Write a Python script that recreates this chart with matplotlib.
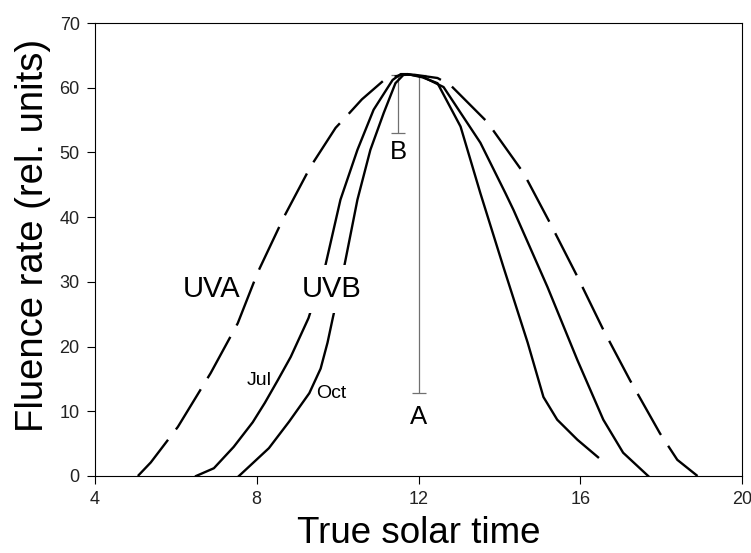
import matplotlib
matplotlib.use('Agg')
import matplotlib.pyplot as plt

plt.rcParams['font.family'] = ['Liberation Sans', 'DejaVu Sans']

# UVA (dashed)
uva_x = [5.06, 5.38, 6.05, 6.86, 7.53, 8.02, 8.67, 9.33, 9.95, 10.25, 10.6, 11.19, 11.6, 11.9,
         12.47, 12.79, 13.7, 14.6, 15.26, 15.93, 16.57, 17.23, 17.97, 18.4, 18.9]
uva_y = [0, 2.1, 7.6, 15.9, 23.6, 31.4, 40, 47.8, 53.8, 55.8, 58.2, 61.4, 62.0, 62.0,
         61.5, 60.4, 54.7, 46.8, 39, 30.8, 22.6, 14.8, 6.6, 2.5, 0]

# UVB July
jul_x = [6.5, 6.94, 7.43, 7.9, 8.2, 8.52, 8.84, 9.28, 9.70, 10.07, 10.49, 10.89, 11.36, 11.56, 11.73,
         12.1, 12.62, 13.53, 14.15, 14.35, 15.19, 15.93, 16.57, 17.06, 17.68]
jul_y = [0, 1.2, 4.5, 8.3, 11.3, 14.8, 18.4, 24.4, 32.6, 42.7, 50.4, 56.6, 61.2, 62.1, 62.1,
         61.7, 60.1, 51.5, 43.7, 41.1, 29.2, 17.9, 8.7, 3.6, 0]

# UVB October
oct_x = [7.56, 8.3, 8.8, 9.3, 9.58, 9.75, 9.88, 10.17, 10.49, 10.81, 11.14, 11.43, 11.63, 11.73,
         12.1, 12.47, 13.04, 13.53, 14.1, 14.7, 15.09, 15.43, 15.93, 16.44]
oct_y = [0, 4.3, 8.4, 12.8, 16.6, 20.6, 24.4, 32.6, 42.7, 50.4, 56.1, 60.7, 62.0, 62.1,
         61.6, 60.7, 54.0, 43.7, 32.3, 20.6, 12.2, 8.7, 5.6, 2.9]

# range bars A and B
bar_x = [12.0, 11.5]
bar_top = [62.0, 62.0]
bar_bottom = [12.8, 53.0]
bar_names = ['A', 'B']
bar_label_y = [9.1, 50.0]

fig = plt.figure(figsize=(7.51, 5.53), dpi=100)
ax = fig.add_axes([95/751, 1-476/553, (742-95)/751, (476-23)/553])

for xs, ys, st in [(uva_x, uva_y, 'dash'), (jul_x, jul_y, 'solid'), (oct_x, oct_y, 'solid')]:
    line, = ax.plot(xs, ys, color='black', lw=1.7, zorder=3,
                    solid_joinstyle='round', dash_joinstyle='round')
    if st == 'dash':
        line.set_dashes((20, 5.5))

lower = [t - b for t, b in zip(bar_top, bar_bottom)]
upper = [0 for t in bar_top]
ax.errorbar(bar_x, bar_top, yerr=[lower, upper], fmt='none', ecolor='#707070',
            elinewidth=0.9, capsize=4.7, capthick=0.9, zorder=2)
for bx, name, ly in zip(bar_x, bar_names, bar_label_y):
    ax.text(bx, ly, name, fontsize=18.5, ha='center', va='center', zorder=6)

ax.text(6.89, 28.9, 'UVA', fontsize=21, ha='center', va='center', zorder=6)
ax.text(9.85, 28.9, 'UVB', fontsize=21, ha='center', va='center', zorder=6,
        bbox=dict(facecolor='white', edgecolor='none', pad=7))
ax.text(8.05, 14.8, 'Jul', fontsize=14, ha='center', va='center', zorder=6)
ax.text(9.83, 12.8, 'Oct', fontsize=14, ha='center', va='center', zorder=6)

ax.set_xlim(4, 20)
ax.set_ylim(0, 70)
ax.set_xticks([4, 8, 12, 16, 20])
ax.set_yticks(range(0, 80, 10))
ax.tick_params(direction='out', length=6, width=0.8, labelsize=13, pad=5,
               top=False, right=False, labelcolor='#222222')
for sp in ax.spines.values():
    sp.set_linewidth(0.8)

ax.set_xlabel('True solar time', fontsize=26.5)
ax.set_ylabel('Fluence rate (rel. units)', fontsize=27.5)
ax.xaxis.set_label_coords(0.5, -0.088)
ax.yaxis.set_label_coords(-0.068, 0.53)

fig.savefig('out.png', dpi=100)
